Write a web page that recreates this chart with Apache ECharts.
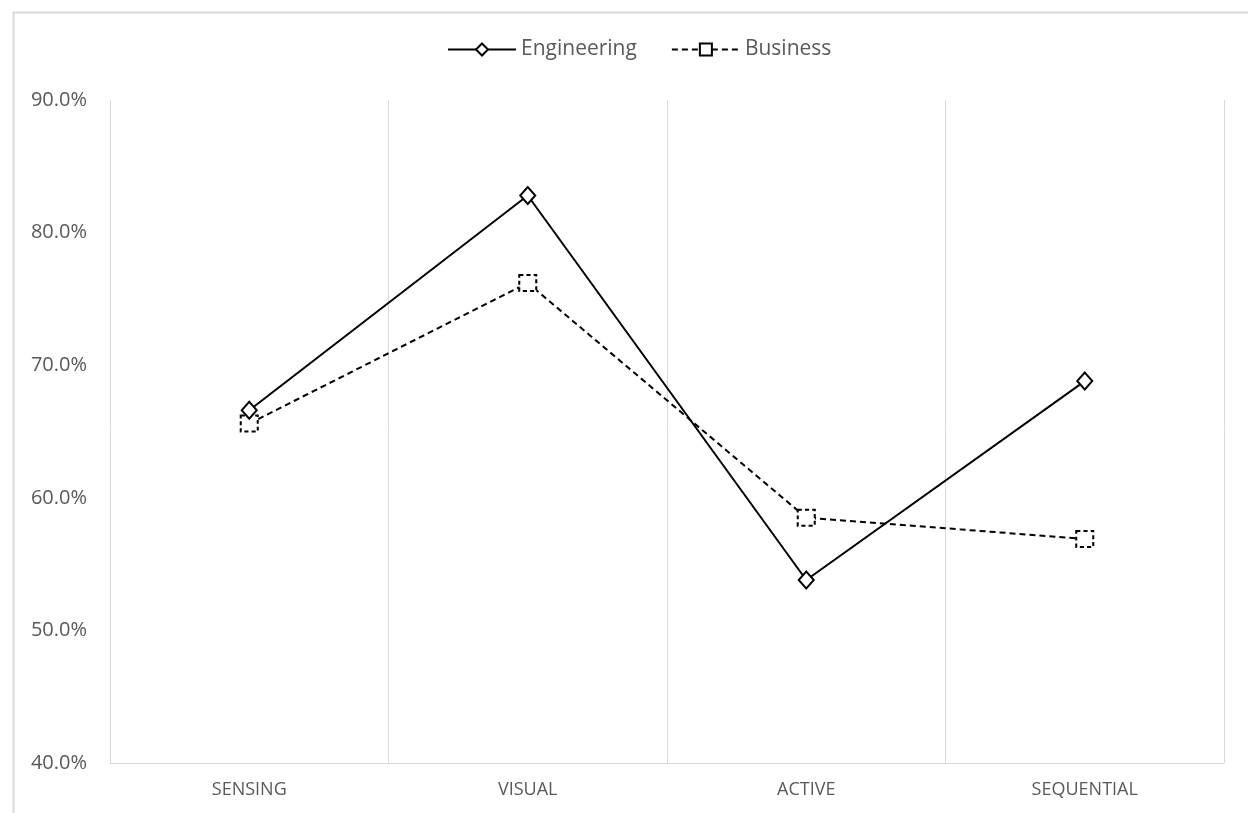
<!DOCTYPE html>
<html>
<head>
<meta charset="utf-8">
<script src="https://cdn.jsdelivr.net/npm/echarts@6/dist/echarts.min.js"></script>
<style>html,body{margin:0;padding:0;background:#fff;}#c{width:1248px;height:813px;}</style>
</head>
<body>
<div id="c"></div>
<script>
const categories = ['SENSING', 'VISUAL', 'ACTIVE', 'SEQUENTIAL'];
const engineering = [0.666, 0.828, 0.538, 0.688];
const business = [0.656, 0.762, 0.585, 0.569];
const yTicks = { min: 0.4, max: 0.9, interval: 0.1 };

const chart = echarts.init(document.getElementById('c'));
chart.setOption({
  animation: false,
  backgroundColor: '#ffffff',
  graphic: [{
    type: 'rect', left: 11, top: 10, shape: { width: 1400, height: 900 },
    style: { fill: 'none', stroke: '#d9d9d9', lineWidth: 2 }, silent: true
  }],
  legend: {
    top: 34, left: 442, itemWidth: 68, itemHeight: 15, itemGap: 34,
    textStyle: { fontFamily: 'Open Sans', fontSize: 21, color: '#595959' },
    data: ['Engineering', 'Business']
  },
  grid: { left: 110, right: 24, top: 100, bottom: 50 },
  xAxis: {
    type: 'category', data: categories, boundaryGap: true,
    axisLine: { show: true, lineStyle: { color: '#d9d9d9', width: 1 } },
    axisTick: { show: false },
    splitLine: { show: true, lineStyle: { color: '#d9d9d9', width: 1 } },
    axisLabel: { fontFamily: 'Open Sans', fontSize: 18, color: '#595959', margin: 18 }
  },
  yAxis: {
    type: 'value', min: yTicks.min, max: yTicks.max, interval: yTicks.interval,
    axisLine: { show: false }, axisTick: { show: false }, splitLine: { show: false },
    axisLabel: {
      fontFamily: 'Open Sans', fontSize: 20, color: '#595959', margin: 23,
      formatter: v => (v * 100).toFixed(1) + '%'
    }
  },
  series: [{
    name: 'Engineering', type: 'line', data: engineering,
    symbol: 'diamond', symbolSize: [15, 17], showAllSymbol: true,
    lineStyle: { color: '#000', width: 2 },
    itemStyle: { color: '#fff', borderColor: '#000', borderWidth: 2 },
    z: 3
  }, {
    name: 'Business', type: 'line', data: business,
    symbol: 'rect', symbolSize: [17, 16], showAllSymbol: true,
    lineStyle: { color: '#000', width: 2, type: [6, 4] },
    itemStyle: { color: '#fff', borderColor: '#000', borderWidth: 2, borderType: [4, 3] },
    z: 2
  }]
});
</script>
</body>
</html>
